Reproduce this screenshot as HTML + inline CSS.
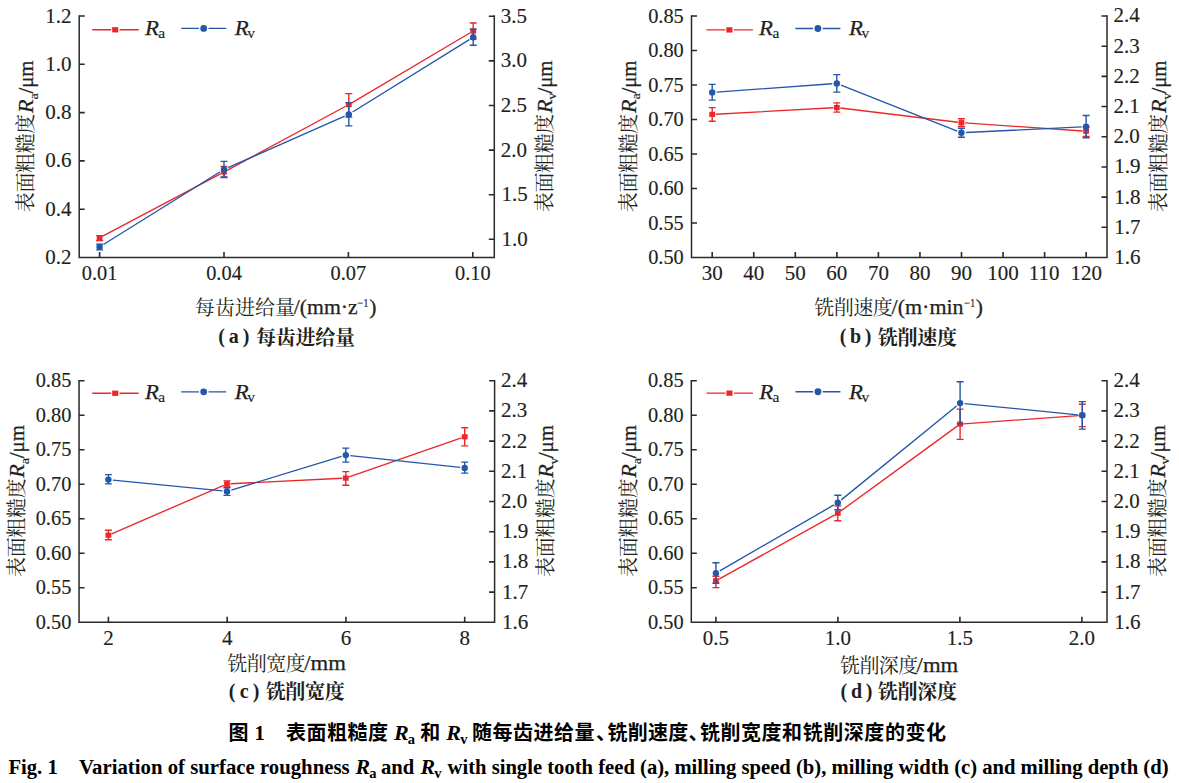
<!DOCTYPE html>
<html lang="zh">
<head>
<meta charset="utf-8">
<title>Fig. 1 Variation of surface roughness</title>
<style>
html,body{margin:0;padding:0;background:#fff;}
body{width:1179px;height:783px;overflow:hidden;font-family:"Liberation Serif",serif;}
svg{display:block;}
svg text{font-family:"Liberation Serif","Noto Serif CJK SC",serif;white-space:pre;}
</style>
</head>
<body>
<svg width="1179" height="783" viewBox="0 0 1179 783" role="img" aria-label="图 1 表面粗糙度 Ra 和 Rv 随每齿进给量、铣削速度、铣削宽度和铣削深度的变化">
<desc>图 1 表面粗糙度 Ra 和 Rv 随每齿进给量、铣削速度、铣削宽度和铣削深度的变化: (a) 每齿进给量/(mm·z⁻¹); (b) 铣削速度/(m·min⁻¹); (c) 铣削宽度/mm; (d) 铣削深度/mm. 表面粗糙度Ra/μm, 表面粗糙度Rv/μm.</desc>
<rect width="1179" height="783" fill="#fff"/>
<path d="M79.2 15.25V257.5H494.3V15.25" fill="none" stroke="#2b2a29" stroke-width="1.5" stroke-linejoin="miter"/>
<path d="M79.2 209.2h5.5M79.2 160.9h5.5M79.2 112.6h5.5M79.2 64.3h5.5M79.2 16h5.5M494.3 239.3h-5.5M494.3 194.7h-5.5M494.3 150.1h-5.5M494.3 105.5h-5.5M494.3 60.9h-5.5M494.3 16.3h-5.5M99.6 257.5v-5.5M224 257.5v-5.5M348.4 257.5v-5.5M472.8 257.5v-5.5" fill="none" stroke="#2b2a29" stroke-width="1.6"/>
<text x="45.25" y="264" font-size="21" stroke="#231f20" stroke-width="0.15" fill="#231f20">0.2</text>
<text x="45.25" y="215.7" font-size="21" stroke="#231f20" stroke-width="0.15" fill="#231f20">0.4</text>
<text x="45.25" y="167.4" font-size="21" stroke="#231f20" stroke-width="0.15" fill="#231f20">0.6</text>
<text x="45.25" y="119.1" font-size="21" stroke="#231f20" stroke-width="0.15" fill="#231f20">0.8</text>
<text x="45.25" y="70.8" font-size="21" stroke="#231f20" stroke-width="0.15" fill="#231f20">1.0</text>
<text x="45.25" y="22.5" font-size="21" stroke="#231f20" stroke-width="0.15" fill="#231f20">1.2</text>
<text x="501.6" y="245.7" font-size="21" stroke="#231f20" stroke-width="0.15" fill="#231f20">1.0</text>
<text x="501.6" y="201.1" font-size="21" stroke="#231f20" stroke-width="0.15" fill="#231f20">1.5</text>
<text x="500.7" y="156.5" font-size="21" stroke="#231f20" stroke-width="0.15" fill="#231f20">2.0</text>
<text x="500.7" y="111.9" font-size="21" stroke="#231f20" stroke-width="0.15" fill="#231f20">2.5</text>
<text x="500.7" y="67.3" font-size="21" stroke="#231f20" stroke-width="0.15" fill="#231f20">3.0</text>
<text x="500.7" y="22.7" font-size="21" stroke="#231f20" stroke-width="0.15" fill="#231f20">3.5</text>
<text x="81.78" y="279.9" font-size="21" textLength="35.65" lengthAdjust="spacingAndGlyphs" stroke="#231f20" stroke-width="0.15" fill="#231f20">0.01</text>
<text x="206.18" y="279.9" font-size="21" textLength="35.65" lengthAdjust="spacingAndGlyphs" stroke="#231f20" stroke-width="0.15" fill="#231f20">0.04</text>
<text x="330.58" y="279.9" font-size="21" textLength="35.65" lengthAdjust="spacingAndGlyphs" stroke="#231f20" stroke-width="0.15" fill="#231f20">0.07</text>
<text x="454.98" y="279.9" font-size="21" textLength="35.65" lengthAdjust="spacingAndGlyphs" stroke="#231f20" stroke-width="0.15" fill="#231f20">0.10</text>
<path d="M102.69 236.16L220.91 173.64M227.08 170.34L345.72 106.26M351.81 102.82L470.19 32.78" fill="none" stroke="#ec2729" stroke-width="1.35"/>
<path d="M99.6 235.6V240.6M96.1 235.6h7M96.1 240.6h7M224 166.5V177.5M220.5 166.5h7M220.5 177.5h7M348.8 93.6V117.1M345.3 93.6h7M345.3 117.1h7M473.2 23V39M469.7 23h7M469.7 39h7" fill="none" stroke="#ec2729" stroke-width="1.4"/>
<rect x="96.7" y="235.2" width="5.8" height="5.2" fill="#ec2729"/>
<rect x="221.1" y="169.4" width="5.8" height="5.2" fill="#ec2729"/>
<rect x="345.9" y="102" width="5.8" height="5.2" fill="#ec2729"/>
<rect x="470.3" y="28.4" width="5.8" height="5.2" fill="#ec2729"/>
<path d="M103.42 244.52L220.18 171.78M228.12 167.59L344.68 116.21M352.62 112.03L469.38 39.67" fill="none" stroke="#2457a7" stroke-width="1.35"/>
<path d="M99.6 244.1V249.9M96.1 244.1h7M96.1 249.9h7M224 161.4V177M220.5 161.4h7M220.5 177h7M348.8 102.6V125.9M345.3 102.6h7M345.3 125.9h7M473.2 29.3V45.3M469.7 29.3h7M469.7 45.3h7" fill="none" stroke="#2457a7" stroke-width="1.4"/>
<circle cx="99.6" cy="246.9" r="3.2" fill="#2457a7"/>
<circle cx="224" cy="169.4" r="3.2" fill="#2457a7"/>
<circle cx="348.8" cy="114.4" r="3.2" fill="#2457a7"/>
<circle cx="473.2" cy="37.3" r="3.2" fill="#2457a7"/>
<path d="M92.2 29.75h19M119.6 29.75h19.1" stroke="#ec2729" stroke-width="1.4" fill="none"/>
<rect x="112.15" y="27.15" width="6.1" height="5.3" fill="#ec2729"/>
<text x="144.9" y="35.25" font-size="21" font-style="italic" textLength="13.9" lengthAdjust="spacingAndGlyphs" stroke="#231f20" stroke-width="0.25" fill="#231f20">R</text>
<text x="158.2" y="38.35" font-size="15.5" stroke="#231f20" stroke-width="0.15" fill="#231f20">a</text>
<path d="M181.2 28.4h17.7M208.5 28.4h17.7" stroke="#2457a7" stroke-width="1.4" fill="none"/>
<circle cx="203.7" cy="28.4" r="3.4" fill="#2457a7"/>
<text x="234.7" y="35.25" font-size="21" font-style="italic" textLength="13.9" lengthAdjust="spacingAndGlyphs" stroke="#231f20" stroke-width="0.25" fill="#231f20">R</text>
<text x="247.2" y="38.35" font-size="15.5" stroke="#231f20" stroke-width="0.15" fill="#231f20">v</text>
<g transform="translate(33 211.5) rotate(-90)"><text x="-0.69 18.95 38.57 58.2 77.83" y="0" font-size="20" fill="#231f20">表面粗糙度</text>
<text x="98.4" y="0" font-size="21" font-style="italic" textLength="13.55" lengthAdjust="spacingAndGlyphs" stroke="#231f20" stroke-width="0.25" fill="#231f20">R</text>
<text x="111.9" y="4.7" font-size="12" textLength="6.3" lengthAdjust="spacingAndGlyphs" stroke="#231f20" stroke-width="0.15" fill="#231f20">a</text>
<text x="118" y="0" font-size="20" textLength="33" lengthAdjust="spacingAndGlyphs" stroke="#231f20" stroke-width="0.3" fill="#231f20">/μm</text></g>
<g transform="translate(551.6 211.5) rotate(-90)"><text x="-0.69 18.95 38.57 58.2 77.83" y="0" font-size="20" fill="#231f20">表面粗糙度</text>
<text x="98.4" y="0" font-size="21" font-style="italic" textLength="13.55" lengthAdjust="spacingAndGlyphs" stroke="#231f20" stroke-width="0.25" fill="#231f20">R</text>
<text x="111.9" y="4.7" font-size="12" textLength="6.6" lengthAdjust="spacingAndGlyphs" stroke="#231f20" stroke-width="0.15" fill="#231f20">v</text>
<text x="118" y="0" font-size="20" textLength="33" lengthAdjust="spacingAndGlyphs" stroke="#231f20" stroke-width="0.3" fill="#231f20">/μm</text></g>
<text x="194.87 214.91 234.95 254.99 275.03" y="315.1" font-size="20" fill="#231f20">每齿进给量</text>
<text x="293.8" y="314.1" font-size="20" textLength="63.8" lengthAdjust="spacingAndGlyphs" stroke="#231f20" stroke-width="0.25" fill="#231f20">/(mm·z</text>
<text x="357.3" y="306.6" font-size="12" textLength="11.4" lengthAdjust="spacingAndGlyphs" stroke="#231f20" stroke-width="0.15" fill="#231f20">−1</text>
<text x="369.2" y="314.1" font-size="20" textLength="7.2" lengthAdjust="spacingAndGlyphs" stroke="#231f20" stroke-width="0.25" fill="#231f20">)</text>
<text x="218.3" y="343.2" font-size="20" font-weight="bold" letter-spacing="3.9" fill="#231f20">(a)</text>
<text x="255.9 275.7 295.5 315.3 335.1" y="344.5" font-size="20" font-weight="bold" fill="#231f20">每齿进给量</text>
<path d="M691.5 15.25V257.5H1107V15.25" fill="none" stroke="#2b2a29" stroke-width="1.5" stroke-linejoin="miter"/>
<path d="M691.5 223h5.5M691.5 188.5h5.5M691.5 154h5.5M691.5 119.5h5.5M691.5 85h5.5M691.5 50.5h5.5M691.5 16h5.5M1107 227.31h-5.5M1107 197.12h-5.5M1107 166.94h-5.5M1107 136.75h-5.5M1107 106.56h-5.5M1107 76.37h-5.5M1107 46.19h-5.5M1107 16h-5.5M712.2 257.5v-5.5M753.75 257.5v-5.5M795.3 257.5v-5.5M836.85 257.5v-5.5M878.4 257.5v-5.5M919.95 257.5v-5.5M961.5 257.5v-5.5M1003.05 257.5v-5.5M1044.6 257.5v-5.5M1086.15 257.5v-5.5" fill="none" stroke="#2b2a29" stroke-width="1.6"/>
<text x="648.15" y="264" font-size="21" textLength="35.65" lengthAdjust="spacingAndGlyphs" stroke="#231f20" stroke-width="0.15" fill="#231f20">0.50</text>
<text x="648.15" y="229.5" font-size="21" textLength="35.65" lengthAdjust="spacingAndGlyphs" stroke="#231f20" stroke-width="0.15" fill="#231f20">0.55</text>
<text x="648.15" y="195" font-size="21" textLength="35.65" lengthAdjust="spacingAndGlyphs" stroke="#231f20" stroke-width="0.15" fill="#231f20">0.60</text>
<text x="648.15" y="160.5" font-size="21" textLength="35.65" lengthAdjust="spacingAndGlyphs" stroke="#231f20" stroke-width="0.15" fill="#231f20">0.65</text>
<text x="648.15" y="126" font-size="21" textLength="35.65" lengthAdjust="spacingAndGlyphs" stroke="#231f20" stroke-width="0.15" fill="#231f20">0.70</text>
<text x="648.15" y="91.5" font-size="21" textLength="35.65" lengthAdjust="spacingAndGlyphs" stroke="#231f20" stroke-width="0.15" fill="#231f20">0.75</text>
<text x="648.15" y="57" font-size="21" textLength="35.65" lengthAdjust="spacingAndGlyphs" stroke="#231f20" stroke-width="0.15" fill="#231f20">0.80</text>
<text x="648.15" y="22.5" font-size="21" textLength="35.65" lengthAdjust="spacingAndGlyphs" stroke="#231f20" stroke-width="0.15" fill="#231f20">0.85</text>
<text x="1114.3" y="263.9" font-size="21" stroke="#231f20" stroke-width="0.15" fill="#231f20">1.6</text>
<text x="1114.3" y="233.71" font-size="21" stroke="#231f20" stroke-width="0.15" fill="#231f20">1.7</text>
<text x="1114.3" y="203.53" font-size="21" stroke="#231f20" stroke-width="0.15" fill="#231f20">1.8</text>
<text x="1114.3" y="173.34" font-size="21" stroke="#231f20" stroke-width="0.15" fill="#231f20">1.9</text>
<text x="1113.4" y="143.15" font-size="21" stroke="#231f20" stroke-width="0.15" fill="#231f20">2.0</text>
<text x="1113.4" y="112.96" font-size="21" stroke="#231f20" stroke-width="0.15" fill="#231f20">2.1</text>
<text x="1113.4" y="82.77" font-size="21" stroke="#231f20" stroke-width="0.15" fill="#231f20">2.2</text>
<text x="1113.4" y="52.59" font-size="21" stroke="#231f20" stroke-width="0.15" fill="#231f20">2.3</text>
<text x="1113.4" y="22.4" font-size="21" stroke="#231f20" stroke-width="0.15" fill="#231f20">2.4</text>
<text x="701.7" y="280.4" font-size="21" stroke="#231f20" stroke-width="0.15" fill="#231f20">30</text>
<text x="743.25" y="280.4" font-size="21" stroke="#231f20" stroke-width="0.15" fill="#231f20">40</text>
<text x="784.8" y="280.4" font-size="21" stroke="#231f20" stroke-width="0.15" fill="#231f20">50</text>
<text x="826.35" y="280.4" font-size="21" stroke="#231f20" stroke-width="0.15" fill="#231f20">60</text>
<text x="867.9" y="280.4" font-size="21" stroke="#231f20" stroke-width="0.15" fill="#231f20">70</text>
<text x="909.45" y="280.4" font-size="21" stroke="#231f20" stroke-width="0.15" fill="#231f20">80</text>
<text x="951" y="280.4" font-size="21" stroke="#231f20" stroke-width="0.15" fill="#231f20">90</text>
<text x="987.3" y="280.4" font-size="21" stroke="#231f20" stroke-width="0.15" fill="#231f20">100</text>
<text x="1028.85" y="280.4" font-size="21" stroke="#231f20" stroke-width="0.15" fill="#231f20">110</text>
<text x="1070.4" y="280.4" font-size="21" stroke="#231f20" stroke-width="0.15" fill="#231f20">120</text>
<path d="M715.69 114.21L833.31 107.79M840.27 108.02L957.93 122.28M964.89 122.94L1082.61 130.96" fill="none" stroke="#ec2729" stroke-width="1.35"/>
<path d="M712.2 107.6V121.2M708.7 107.6h7M708.7 121.2h7M836.8 102.9V112.1M833.3 102.9h7M833.3 112.1h7M961.4 118.7V126.5M957.9 118.7h7M957.9 126.5h7M1086.1 127V136.5M1082.6 127h7M1082.6 136.5h7" fill="none" stroke="#ec2729" stroke-width="1.4"/>
<rect x="709.3" y="111.8" width="5.8" height="5.2" fill="#ec2729"/>
<rect x="833.9" y="105" width="5.8" height="5.2" fill="#ec2729"/>
<rect x="958.5" y="120.1" width="5.8" height="5.2" fill="#ec2729"/>
<rect x="1083.2" y="128.6" width="5.8" height="5.2" fill="#ec2729"/>
<path d="M716.69 92.08L832.31 83.72M840.98 85.06L957.22 131.04M965.89 132.48L1081.61 126.92" fill="none" stroke="#2457a7" stroke-width="1.35"/>
<path d="M712.2 84.4V100.1M708.7 84.4h7M708.7 100.1h7M836.8 74.6V92.1M833.3 74.6h7M833.3 92.1h7M961.4 128.2V137.2M957.9 128.2h7M957.9 137.2h7M1086.1 115.5V137.7M1082.6 115.5h7M1082.6 137.7h7" fill="none" stroke="#2457a7" stroke-width="1.4"/>
<circle cx="712.2" cy="92.4" r="3.2" fill="#2457a7"/>
<circle cx="836.8" cy="83.4" r="3.2" fill="#2457a7"/>
<circle cx="961.4" cy="132.7" r="3.2" fill="#2457a7"/>
<circle cx="1086.1" cy="126.7" r="3.2" fill="#2457a7"/>
<path d="M706.4 29.85h19M733.8 29.85h19.1" stroke="#ec2729" stroke-width="1.4" fill="none"/>
<rect x="726.35" y="27.25" width="6.1" height="5.3" fill="#ec2729"/>
<text x="759.1" y="35.35" font-size="21" font-style="italic" textLength="13.9" lengthAdjust="spacingAndGlyphs" stroke="#231f20" stroke-width="0.25" fill="#231f20">R</text>
<text x="772.4" y="38.45" font-size="15.5" stroke="#231f20" stroke-width="0.15" fill="#231f20">a</text>
<path d="M795.4 28.5h17.7M822.7 28.5h17.7" stroke="#2457a7" stroke-width="1.4" fill="none"/>
<circle cx="817.9" cy="28.5" r="3.4" fill="#2457a7"/>
<text x="848.9" y="35.35" font-size="21" font-style="italic" textLength="13.9" lengthAdjust="spacingAndGlyphs" stroke="#231f20" stroke-width="0.25" fill="#231f20">R</text>
<text x="861.4" y="38.45" font-size="15.5" stroke="#231f20" stroke-width="0.15" fill="#231f20">v</text>
<g transform="translate(635.5 211.5) rotate(-90)"><text x="-0.69 18.95 38.57 58.2 77.83" y="0" font-size="20" fill="#231f20">表面粗糙度</text>
<text x="98.4" y="0" font-size="21" font-style="italic" textLength="13.55" lengthAdjust="spacingAndGlyphs" stroke="#231f20" stroke-width="0.25" fill="#231f20">R</text>
<text x="111.9" y="4.7" font-size="12" textLength="6.3" lengthAdjust="spacingAndGlyphs" stroke="#231f20" stroke-width="0.15" fill="#231f20">a</text>
<text x="118" y="0" font-size="20" textLength="33" lengthAdjust="spacingAndGlyphs" stroke="#231f20" stroke-width="0.3" fill="#231f20">/μm</text></g>
<g transform="translate(1165.8 211.5) rotate(-90)"><text x="-0.69 18.95 38.57 58.2 77.83" y="0" font-size="20" fill="#231f20">表面粗糙度</text>
<text x="98.4" y="0" font-size="21" font-style="italic" textLength="13.55" lengthAdjust="spacingAndGlyphs" stroke="#231f20" stroke-width="0.25" fill="#231f20">R</text>
<text x="111.9" y="4.7" font-size="12" textLength="6.6" lengthAdjust="spacingAndGlyphs" stroke="#231f20" stroke-width="0.15" fill="#231f20">v</text>
<text x="118" y="0" font-size="20" textLength="33" lengthAdjust="spacingAndGlyphs" stroke="#231f20" stroke-width="0.3" fill="#231f20">/μm</text></g>
<text x="814.3 833.8 853.3 872.8" y="315.2" font-size="20" fill="#231f20">铣削速度</text>
<text x="891.6" y="314.2" font-size="20" textLength="72" lengthAdjust="spacingAndGlyphs" stroke="#231f20" stroke-width="0.25" fill="#231f20">/(m·min</text>
<text x="964" y="306.7" font-size="12" textLength="11.4" lengthAdjust="spacingAndGlyphs" stroke="#231f20" stroke-width="0.15" fill="#231f20">−1</text>
<text x="975.8" y="314.2" font-size="20" textLength="7.2" lengthAdjust="spacingAndGlyphs" stroke="#231f20" stroke-width="0.25" fill="#231f20">)</text>
<text x="839.8" y="343.4" font-size="20" font-weight="bold" letter-spacing="3.55" fill="#231f20">(b)</text>
<text x="877.7 897.5 917.3 937.1" y="344.7" font-size="20" font-weight="bold" fill="#231f20">铣削速度</text>
<path d="M79.05 379.95V622.3H494.6V379.95" fill="none" stroke="#2b2a29" stroke-width="1.5" stroke-linejoin="miter"/>
<path d="M79.05 587.79h5.5M79.05 553.27h5.5M79.05 518.76h5.5M79.05 484.24h5.5M79.05 449.73h5.5M79.05 415.21h5.5M79.05 380.7h5.5M494.6 592.1h-5.5M494.6 561.9h-5.5M494.6 531.7h-5.5M494.6 501.5h-5.5M494.6 471.3h-5.5M494.6 441.1h-5.5M494.6 410.9h-5.5M494.6 380.7h-5.5M108.4 622.3v-5.5M227.17 622.3v-5.5M345.94 622.3v-5.5M464.71 622.3v-5.5" fill="none" stroke="#2b2a29" stroke-width="1.6"/>
<text x="35.7" y="628.8" font-size="21" textLength="35.65" lengthAdjust="spacingAndGlyphs" stroke="#231f20" stroke-width="0.15" fill="#231f20">0.50</text>
<text x="35.7" y="594.29" font-size="21" textLength="35.65" lengthAdjust="spacingAndGlyphs" stroke="#231f20" stroke-width="0.15" fill="#231f20">0.55</text>
<text x="35.7" y="559.77" font-size="21" textLength="35.65" lengthAdjust="spacingAndGlyphs" stroke="#231f20" stroke-width="0.15" fill="#231f20">0.60</text>
<text x="35.7" y="525.26" font-size="21" textLength="35.65" lengthAdjust="spacingAndGlyphs" stroke="#231f20" stroke-width="0.15" fill="#231f20">0.65</text>
<text x="35.7" y="490.74" font-size="21" textLength="35.65" lengthAdjust="spacingAndGlyphs" stroke="#231f20" stroke-width="0.15" fill="#231f20">0.70</text>
<text x="35.7" y="456.23" font-size="21" textLength="35.65" lengthAdjust="spacingAndGlyphs" stroke="#231f20" stroke-width="0.15" fill="#231f20">0.75</text>
<text x="35.7" y="421.71" font-size="21" textLength="35.65" lengthAdjust="spacingAndGlyphs" stroke="#231f20" stroke-width="0.15" fill="#231f20">0.80</text>
<text x="35.7" y="387.2" font-size="21" textLength="35.65" lengthAdjust="spacingAndGlyphs" stroke="#231f20" stroke-width="0.15" fill="#231f20">0.85</text>
<text x="501.9" y="628.7" font-size="21" stroke="#231f20" stroke-width="0.15" fill="#231f20">1.6</text>
<text x="501.9" y="598.5" font-size="21" stroke="#231f20" stroke-width="0.15" fill="#231f20">1.7</text>
<text x="501.9" y="568.3" font-size="21" stroke="#231f20" stroke-width="0.15" fill="#231f20">1.8</text>
<text x="501.9" y="538.1" font-size="21" stroke="#231f20" stroke-width="0.15" fill="#231f20">1.9</text>
<text x="501" y="507.9" font-size="21" stroke="#231f20" stroke-width="0.15" fill="#231f20">2.0</text>
<text x="501" y="477.7" font-size="21" stroke="#231f20" stroke-width="0.15" fill="#231f20">2.1</text>
<text x="501" y="447.5" font-size="21" stroke="#231f20" stroke-width="0.15" fill="#231f20">2.2</text>
<text x="501" y="417.3" font-size="21" stroke="#231f20" stroke-width="0.15" fill="#231f20">2.3</text>
<text x="501" y="387.1" font-size="21" stroke="#231f20" stroke-width="0.15" fill="#231f20">2.4</text>
<text x="103.15" y="644.7" font-size="21" stroke="#231f20" stroke-width="0.15" fill="#231f20">2</text>
<text x="221.92" y="644.7" font-size="21" stroke="#231f20" stroke-width="0.15" fill="#231f20">4</text>
<text x="340.69" y="644.7" font-size="21" stroke="#231f20" stroke-width="0.15" fill="#231f20">6</text>
<text x="459.46" y="644.7" font-size="21" stroke="#231f20" stroke-width="0.15" fill="#231f20">8</text>
<path d="M111.61 533.81L223.79 485.29M230.5 483.73L342.3 478.27M349.11 476.95L461.39 437.95" fill="none" stroke="#ec2729" stroke-width="1.35"/>
<path d="M108.4 530.2V539.7M104.9 530.2h7M104.9 539.7h7M227 480.9V486.9M223.5 480.9h7M223.5 486.9h7M345.8 471.6V485.2M342.3 471.6h7M342.3 485.2h7M464.7 427.8V445.9M461.2 427.8h7M461.2 445.9h7" fill="none" stroke="#ec2729" stroke-width="1.4"/>
<rect x="105.5" y="532.6" width="5.8" height="5.2" fill="#ec2729"/>
<rect x="224.1" y="481.3" width="5.8" height="5.2" fill="#ec2729"/>
<rect x="342.9" y="475.5" width="5.8" height="5.2" fill="#ec2729"/>
<rect x="461.8" y="434.2" width="5.8" height="5.2" fill="#ec2729"/>
<path d="M112.88 480.05L222.52 490.95M231.3 490.09L341.5 456.41M350.27 455.58L460.23 467.42" fill="none" stroke="#2457a7" stroke-width="1.35"/>
<path d="M108.4 474.6V483.9M104.9 474.6h7M104.9 483.9h7M227 487.7V495.4M223.5 487.7h7M223.5 495.4h7M345.8 448.1V462.1M342.3 448.1h7M342.3 462.1h7M464.7 462.1V473.1M461.2 462.1h7M461.2 473.1h7" fill="none" stroke="#2457a7" stroke-width="1.4"/>
<circle cx="108.4" cy="479.6" r="3.2" fill="#2457a7"/>
<circle cx="227" cy="491.4" r="3.2" fill="#2457a7"/>
<circle cx="345.8" cy="455.1" r="3.2" fill="#2457a7"/>
<circle cx="464.7" cy="467.9" r="3.2" fill="#2457a7"/>
<path d="M92.2 393.2h19M119.6 393.2h19.1" stroke="#ec2729" stroke-width="1.4" fill="none"/>
<rect x="112.15" y="390.6" width="6.1" height="5.3" fill="#ec2729"/>
<text x="144.9" y="398.7" font-size="21" font-style="italic" textLength="13.9" lengthAdjust="spacingAndGlyphs" stroke="#231f20" stroke-width="0.25" fill="#231f20">R</text>
<text x="158.2" y="401.8" font-size="15.5" stroke="#231f20" stroke-width="0.15" fill="#231f20">a</text>
<path d="M181.2 391.85h17.7M208.5 391.85h17.7" stroke="#2457a7" stroke-width="1.4" fill="none"/>
<circle cx="203.7" cy="391.85" r="3.4" fill="#2457a7"/>
<text x="234.7" y="398.7" font-size="21" font-style="italic" textLength="13.9" lengthAdjust="spacingAndGlyphs" stroke="#231f20" stroke-width="0.25" fill="#231f20">R</text>
<text x="247.2" y="401.8" font-size="15.5" stroke="#231f20" stroke-width="0.15" fill="#231f20">v</text>
<g transform="translate(24.25 576.2) rotate(-90)"><text x="-0.69 18.95 38.57 58.2 77.83" y="0" font-size="20" fill="#231f20">表面粗糙度</text>
<text x="98.4" y="0" font-size="21" font-style="italic" textLength="13.55" lengthAdjust="spacingAndGlyphs" stroke="#231f20" stroke-width="0.25" fill="#231f20">R</text>
<text x="111.9" y="4.7" font-size="12" textLength="6.3" lengthAdjust="spacingAndGlyphs" stroke="#231f20" stroke-width="0.15" fill="#231f20">a</text>
<text x="118" y="0" font-size="20" textLength="33" lengthAdjust="spacingAndGlyphs" stroke="#231f20" stroke-width="0.3" fill="#231f20">/μm</text></g>
<g transform="translate(553.4 576.2) rotate(-90)"><text x="-0.69 18.95 38.57 58.2 77.83" y="0" font-size="20" fill="#231f20">表面粗糙度</text>
<text x="98.4" y="0" font-size="21" font-style="italic" textLength="13.55" lengthAdjust="spacingAndGlyphs" stroke="#231f20" stroke-width="0.25" fill="#231f20">R</text>
<text x="111.9" y="4.7" font-size="12" textLength="6.6" lengthAdjust="spacingAndGlyphs" stroke="#231f20" stroke-width="0.15" fill="#231f20">v</text>
<text x="118" y="0" font-size="20" textLength="33" lengthAdjust="spacingAndGlyphs" stroke="#231f20" stroke-width="0.3" fill="#231f20">/μm</text></g>
<text x="227.35 246.75 266.15 285.55" y="671.2" font-size="20" fill="#231f20">铣削宽度</text>
<text x="304.3" y="670.2" font-size="20" textLength="41.6" lengthAdjust="spacingAndGlyphs" stroke="#231f20" stroke-width="0.25" fill="#231f20">/mm</text>
<text x="228.8" y="697.7" font-size="20" font-weight="bold" letter-spacing="4.2" fill="#231f20">(c)</text>
<text x="265.65 285.35 305.05 324.75" y="699" font-size="20" font-weight="bold" fill="#231f20">铣削宽度</text>
<path d="M691.3 379.95V622.3H1107V379.95" fill="none" stroke="#2b2a29" stroke-width="1.5" stroke-linejoin="miter"/>
<path d="M691.3 587.79h5.5M691.3 553.27h5.5M691.3 518.76h5.5M691.3 484.24h5.5M691.3 449.73h5.5M691.3 415.21h5.5M691.3 380.7h5.5M1107 592.1h-5.5M1107 561.9h-5.5M1107 531.7h-5.5M1107 501.5h-5.5M1107 471.3h-5.5M1107 441.1h-5.5M1107 410.9h-5.5M1107 380.7h-5.5M715.9 622.3v-5.5M837.9 622.3v-5.5M959.9 622.3v-5.5M1081.9 622.3v-5.5" fill="none" stroke="#2b2a29" stroke-width="1.6"/>
<text x="647.95" y="628.8" font-size="21" textLength="35.65" lengthAdjust="spacingAndGlyphs" stroke="#231f20" stroke-width="0.15" fill="#231f20">0.50</text>
<text x="647.95" y="594.29" font-size="21" textLength="35.65" lengthAdjust="spacingAndGlyphs" stroke="#231f20" stroke-width="0.15" fill="#231f20">0.55</text>
<text x="647.95" y="559.77" font-size="21" textLength="35.65" lengthAdjust="spacingAndGlyphs" stroke="#231f20" stroke-width="0.15" fill="#231f20">0.60</text>
<text x="647.95" y="525.26" font-size="21" textLength="35.65" lengthAdjust="spacingAndGlyphs" stroke="#231f20" stroke-width="0.15" fill="#231f20">0.65</text>
<text x="647.95" y="490.74" font-size="21" textLength="35.65" lengthAdjust="spacingAndGlyphs" stroke="#231f20" stroke-width="0.15" fill="#231f20">0.70</text>
<text x="647.95" y="456.23" font-size="21" textLength="35.65" lengthAdjust="spacingAndGlyphs" stroke="#231f20" stroke-width="0.15" fill="#231f20">0.75</text>
<text x="647.95" y="421.71" font-size="21" textLength="35.65" lengthAdjust="spacingAndGlyphs" stroke="#231f20" stroke-width="0.15" fill="#231f20">0.80</text>
<text x="647.95" y="387.2" font-size="21" textLength="35.65" lengthAdjust="spacingAndGlyphs" stroke="#231f20" stroke-width="0.15" fill="#231f20">0.85</text>
<text x="1114.3" y="628.7" font-size="21" stroke="#231f20" stroke-width="0.15" fill="#231f20">1.6</text>
<text x="1114.3" y="598.5" font-size="21" stroke="#231f20" stroke-width="0.15" fill="#231f20">1.7</text>
<text x="1114.3" y="568.3" font-size="21" stroke="#231f20" stroke-width="0.15" fill="#231f20">1.8</text>
<text x="1114.3" y="538.1" font-size="21" stroke="#231f20" stroke-width="0.15" fill="#231f20">1.9</text>
<text x="1113.4" y="507.9" font-size="21" stroke="#231f20" stroke-width="0.15" fill="#231f20">2.0</text>
<text x="1113.4" y="477.7" font-size="21" stroke="#231f20" stroke-width="0.15" fill="#231f20">2.1</text>
<text x="1113.4" y="447.5" font-size="21" stroke="#231f20" stroke-width="0.15" fill="#231f20">2.2</text>
<text x="1113.4" y="417.3" font-size="21" stroke="#231f20" stroke-width="0.15" fill="#231f20">2.3</text>
<text x="1113.4" y="387.1" font-size="21" stroke="#231f20" stroke-width="0.15" fill="#231f20">2.4</text>
<text x="702.77" y="644.7" font-size="21" stroke="#231f20" stroke-width="0.15" fill="#231f20">0.5</text>
<text x="824.77" y="644.7" font-size="21" stroke="#231f20" stroke-width="0.15" fill="#231f20">1.0</text>
<text x="946.77" y="644.7" font-size="21" stroke="#231f20" stroke-width="0.15" fill="#231f20">1.5</text>
<text x="1068.78" y="644.7" font-size="21" stroke="#231f20" stroke-width="0.15" fill="#231f20">2.0</text>
<path d="M718.96 579.1L834.74 514.9M840.63 511.14L957.27 426.16M963.59 423.85L1078.81 415.55" fill="none" stroke="#ec2729" stroke-width="1.35"/>
<path d="M715.9 576.3V587.6M712.4 576.3h7M712.4 587.6h7M837.8 505.9V520.7M834.3 505.9h7M834.3 520.7h7M960.1 409.1V439.4M956.6 409.1h7M956.6 439.4h7M1082.3 404.3V426.6M1078.8 404.3h7M1078.8 426.6h7" fill="none" stroke="#ec2729" stroke-width="1.4"/>
<rect x="713" y="578.2" width="5.8" height="5.2" fill="#ec2729"/>
<rect x="834.9" y="510.6" width="5.8" height="5.2" fill="#ec2729"/>
<rect x="957.2" y="421.5" width="5.8" height="5.2" fill="#ec2729"/>
<rect x="1079.4" y="412.7" width="5.8" height="5.2" fill="#ec2729"/>
<path d="M719.8 570.85L833.9 504.95M841.29 499.86L956.61 405.94M964.58 403.55L1077.82 414.85" fill="none" stroke="#2457a7" stroke-width="1.35"/>
<path d="M715.9 562.8V583.3M712.4 562.8h7M712.4 583.3h7M837.8 495.2V509.7M834.3 495.2h7M834.3 509.7h7M960.1 381.8V423.9M956.6 381.8h7M956.6 423.9h7M1082.3 401.6V429.1M1078.8 401.6h7M1078.8 429.1h7" fill="none" stroke="#2457a7" stroke-width="1.4"/>
<circle cx="715.9" cy="573.1" r="3.2" fill="#2457a7"/>
<circle cx="837.8" cy="502.7" r="3.2" fill="#2457a7"/>
<circle cx="960.1" cy="403.1" r="3.2" fill="#2457a7"/>
<circle cx="1082.3" cy="415.3" r="3.2" fill="#2457a7"/>
<path d="M706.45 393.1h19M733.85 393.1h19.1" stroke="#ec2729" stroke-width="1.4" fill="none"/>
<rect x="726.4" y="390.5" width="6.1" height="5.3" fill="#ec2729"/>
<text x="759.15" y="398.6" font-size="21" font-style="italic" textLength="13.9" lengthAdjust="spacingAndGlyphs" stroke="#231f20" stroke-width="0.25" fill="#231f20">R</text>
<text x="772.45" y="401.7" font-size="15.5" stroke="#231f20" stroke-width="0.15" fill="#231f20">a</text>
<path d="M795.45 391.75h17.7M822.75 391.75h17.7" stroke="#2457a7" stroke-width="1.4" fill="none"/>
<circle cx="817.95" cy="391.75" r="3.4" fill="#2457a7"/>
<text x="848.95" y="398.6" font-size="21" font-style="italic" textLength="13.9" lengthAdjust="spacingAndGlyphs" stroke="#231f20" stroke-width="0.25" fill="#231f20">R</text>
<text x="861.45" y="401.7" font-size="15.5" stroke="#231f20" stroke-width="0.15" fill="#231f20">v</text>
<g transform="translate(636.1 576.2) rotate(-90)"><text x="-0.69 18.95 38.57 58.2 77.83" y="0" font-size="20" fill="#231f20">表面粗糙度</text>
<text x="98.4" y="0" font-size="21" font-style="italic" textLength="13.55" lengthAdjust="spacingAndGlyphs" stroke="#231f20" stroke-width="0.25" fill="#231f20">R</text>
<text x="111.9" y="4.7" font-size="12" textLength="6.3" lengthAdjust="spacingAndGlyphs" stroke="#231f20" stroke-width="0.15" fill="#231f20">a</text>
<text x="118" y="0" font-size="20" textLength="33" lengthAdjust="spacingAndGlyphs" stroke="#231f20" stroke-width="0.3" fill="#231f20">/μm</text></g>
<g transform="translate(1164.6 576.2) rotate(-90)"><text x="-0.69 18.95 38.57 58.2 77.83" y="0" font-size="20" fill="#231f20">表面粗糙度</text>
<text x="98.4" y="0" font-size="21" font-style="italic" textLength="13.55" lengthAdjust="spacingAndGlyphs" stroke="#231f20" stroke-width="0.25" fill="#231f20">R</text>
<text x="111.9" y="4.7" font-size="12" textLength="6.6" lengthAdjust="spacingAndGlyphs" stroke="#231f20" stroke-width="0.15" fill="#231f20">v</text>
<text x="118" y="0" font-size="20" textLength="33" lengthAdjust="spacingAndGlyphs" stroke="#231f20" stroke-width="0.3" fill="#231f20">/μm</text></g>
<text x="840.05 859.45 878.85 898.25" y="672.8" font-size="20" fill="#231f20">铣削深度</text>
<text x="916.6" y="671.8" font-size="20" textLength="41.6" lengthAdjust="spacingAndGlyphs" stroke="#231f20" stroke-width="0.25" fill="#231f20">/mm</text>
<text x="840.4" y="697.9" font-size="20" font-weight="bold" letter-spacing="3.85" fill="#231f20">(d)</text>
<text x="877.7 897.5 917.3 937.1" y="699.2" font-size="20" font-weight="bold" fill="#231f20">铣削深度</text>
<text x="228.6" y="740.3" font-size="20" font-weight="bold" fill="#000" style="font-family:'Liberation Sans','Noto Sans CJK SC',sans-serif">图</text>
<text x="254.5" y="740.3" font-size="20.5" font-weight="bold" fill="#000">1</text>
<text x="286.1 306.6 327.1 347.6 368.1" y="740.3" font-size="20" font-weight="bold" fill="#000" style="font-family:'Liberation Sans','Noto Sans CJK SC',sans-serif">表面粗糙度</text>
<text x="394" y="740.3" font-size="20.5" font-weight="bold" font-style="italic" textLength="14.77" lengthAdjust="spacingAndGlyphs" fill="#000">R</text>
<text x="407.8" y="744" font-size="14.5" font-weight="bold" fill="#000">a</text>
<text x="420.3" y="740.3" font-size="20" font-weight="bold" fill="#000" style="font-family:'Liberation Sans','Noto Sans CJK SC',sans-serif">和</text>
<text x="446.2" y="740.3" font-size="20.5" font-weight="bold" font-style="italic" textLength="14.77" lengthAdjust="spacingAndGlyphs" fill="#000">R</text>
<text x="460.2" y="744" font-size="14.5" font-weight="bold" fill="#000">v</text>
<text x="472.1 492.6 513.1 533.6 554.1 574.6 595.9" y="740.3" font-size="20" font-weight="bold" fill="#000" style="font-family:'Liberation Sans','Noto Sans CJK SC',sans-serif">随每齿进给量、</text>
<text x="607.48 627.73 647.98 668.23 688.4" y="740.3" font-size="20" font-weight="bold" fill="#000" style="font-family:'Liberation Sans','Noto Sans CJK SC',sans-serif">铣削速度、</text>
<text x="699.92 720.47 741.02 761.57 782.12 802.67 823.22 843.77 864.32 884.88 905.42 925.97" y="740.3" font-size="20" font-weight="bold" fill="#000" style="font-family:'Liberation Sans','Noto Sans CJK SC',sans-serif">铣削宽度和铣削深度的变化</text>
<text x="8.5" y="774.2" font-size="20.6" font-weight="bold" fill="#000">Fig. 1</text>
<text x="79" y="774.2" font-size="20.6" font-weight="bold" textLength="270.6" lengthAdjust="spacingAndGlyphs" fill="#000">Variation of surface roughness</text>
<text x="355.6" y="774.2" font-size="20.6" font-weight="bold" font-style="italic" textLength="14.56" lengthAdjust="spacingAndGlyphs" fill="#000">R</text>
<text x="369.3" y="777.9" font-size="14.5" font-weight="bold" fill="#000">a</text>
<text x="381" y="774.2" font-size="20.6" font-weight="bold" fill="#000">and</text>
<text x="420.5" y="774.2" font-size="20.6" font-weight="bold" font-style="italic" textLength="14.56" lengthAdjust="spacingAndGlyphs" fill="#000">R</text>
<text x="434.2" y="777.9" font-size="14.5" font-weight="bold" fill="#000">v</text>
<text x="447.5" y="774.2" font-size="20.6" font-weight="bold" textLength="721" lengthAdjust="spacingAndGlyphs" fill="#000">with single tooth feed (a), milling speed (b), milling width (c) and milling depth (d)</text>
</svg>
</body>
</html>
